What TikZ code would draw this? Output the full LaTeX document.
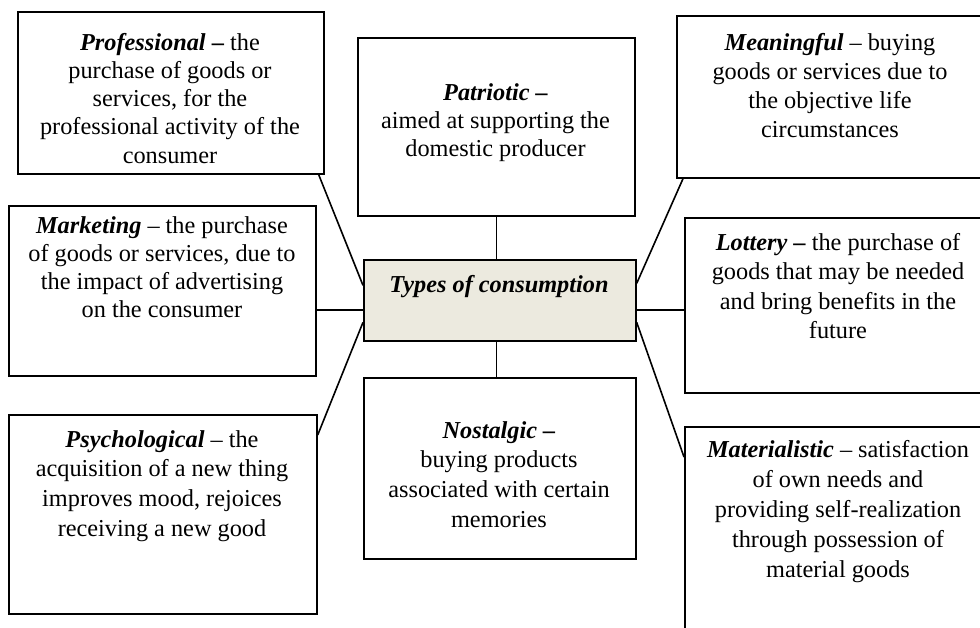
\documentclass[tikz,border=0pt]{standalone}
\usepackage{fontspec}
\setmainfont{Liberation Serif}
\newcommand{\mylines}[2][28.3]{{\fontsize{24.3}{#1}\selectfont\begin{tabular}[t]{@{}c@{}}#2\end{tabular}}}
\tikzset{
  box/.style={draw=black, line width=1.7pt, fill=white, inner sep=0pt, anchor=north west},
  cbox/.style={box, fill=centerfill},
  txt/.style={inner sep=0pt, anchor=base, text=black},
  conn/.style={draw=black, line width=1.6pt}
}
\definecolor{centerfill}{HTML}{ECEADF}
\begin{document}
\begin{tikzpicture}[x=1pt,y=-1pt]
\useasboundingbox (0,0) rectangle (980,627);
\clip (0,0) rectangle (980,627);
\fill[white] (0,0) rectangle (980,627);

% boxes
\node[box, minimum width=306pt, minimum height=162pt] (prof) at (17,11) {};
\node[box, minimum width=307pt, minimum height=170pt] (mkt) at (8,205) {};
\node[box, minimum width=308pt, minimum height=199pt] (psy) at (8,414) {};
\node[box, minimum width=277pt, minimum height=178pt] (pat) at (357,37) {};
\node[cbox, minimum width=272pt, minimum height=81pt] (cen) at (363,259) {};
\node[box, minimum width=272pt, minimum height=181pt] (nost) at (363,377) {};
\node[box, minimum width=310pt, minimum height=162pt] (mean) at (676,15) {};
\node[box, minimum width=310pt, minimum height=175pt] (lot) at (684,217) {};
\node[box, minimum width=310pt, minimum height=230pt] (mat) at (684,426) {};

% texts
\node[txt] (prof-t) at (170,50) {\mylines{\textbf{\textit{Professional} –} the\\purchase of goods or\\services, for the\\professional activity of the\\consumer}};
\node[txt] (mkt-t) at (162,233) {\mylines{\textbf{\textit{Marketing}} – the purchase\\of goods or services, due to\\the impact of advertising\\on the consumer}};
\node[txt] (psy-t) at (162,447) {\mylines[29.8]{\textbf{\textit{Psychological}} – the\\acquisition of a new thing\\improves mood, rejoices\\receiving a new good}};
\node[txt] (pat-t) at (495.5,100) {\mylines{\textbf{\textit{Patriotic –}}\\aimed at supporting the\\domestic producer}};
\node[txt] (cen-t) at (499,292) {\fontsize{24.3}{28.3}\selectfont\textbf{\textit{Types of consumption}}};
\node[txt] (nost-t) at (499,438) {\mylines[29.8]{\textbf{\textit{Nostalgic –}}\\buying products\\associated with certain\\memories}};
\node[txt] (mean-t) at (830,50) {\mylines[29]{\textbf{\textit{Meaningful}} – buying\\goods or services due to\\the objective life\\circumstances}};
\node[txt] (lot-t) at (838,250) {\mylines[29.5]{\textbf{\textit{Lottery} –} the purchase of\\goods that may be needed\\and bring benefits in the\\future}};
\node[txt] (mat-t) at (838,457) {\mylines[30]{\textbf{\textit{Materialistic}} – satisfaction\\of own needs and\\providing self-realization\\through possession of\\material goods}};

% connectors
\coordinate (hl) at (499,310);
\draw[conn] ([xshift=-6pt]prof.south east) -- ([yshift=15pt]cen.west);
\draw[conn] (mkt.east |- hl) -- (cen.west |- hl);
\draw[conn] ([yshift=-21pt]psy.north east) -- ([yshift=-22pt]cen.west);
\draw[conn] (pat.south) -- (pat.south |- cen.north);
\draw[conn] (pat.south |- cen.south) -- (pat.south |- nost.north);
\draw[conn] ([xshift=7pt]mean.south west) -- ([yshift=17pt]cen.east);
\draw[conn] (cen.east |- hl) -- (lot.west |- hl);
\draw[conn] ([yshift=-22pt]cen.east) -- ([yshift=-31pt]mat.north west);
\end{tikzpicture}
\end{document}
